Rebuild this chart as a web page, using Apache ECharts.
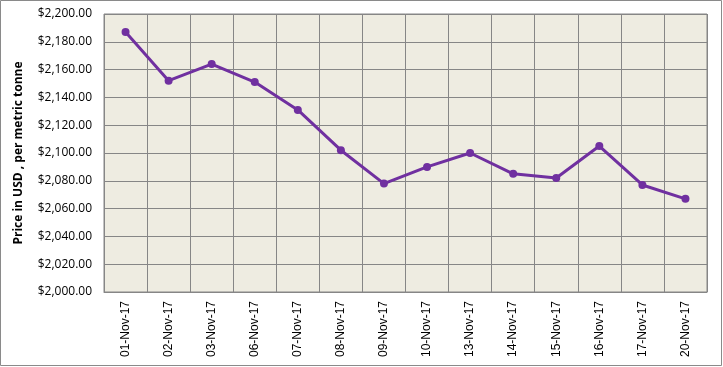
<!DOCTYPE html>
<html><head><meta charset="utf-8">
<script src="https://cdn.jsdelivr.net/npm/echarts@6/dist/echarts.min.js"></script>
<style>html,body{margin:0;padding:0;background:#fff}#c{width:723px;height:367px}</style>
</head><body><div id="c"></div>
<script>
const categories = ["01-Nov-17","02-Nov-17","03-Nov-17","06-Nov-17","07-Nov-17","08-Nov-17","09-Nov-17","10-Nov-17","13-Nov-17","14-Nov-17","15-Nov-17","16-Nov-17","17-Nov-17","20-Nov-17"];
const prices = [2187, 2152, 2164, 2151, 2131, 2102, 2078, 2090, 2100, 2085, 2082, 2105, 2077, 2067];
const yMin = 2000, yMax = 2200, yStep = 20;
const yTitle = "Price in USD , per metric tonne";

const chart = echarts.init(document.getElementById('c'), null, {renderer:'canvas'});
chart.setOption({
  animation:false,
  backgroundColor:'#ffffff',
  graphic:[{type:'rect',shape:{x:0.5,y:0.5,width:721,height:365},style:{fill:'none',stroke:'#8a8a8a',lineWidth:1},z:-1}],
  grid:{left:104,right:16,top:14,bottom:75,show:true,backgroundColor:'#EEECE1',borderColor:'#868686',borderWidth:1},
  xAxis:{type:'category',data:categories,boundaryGap:true,
    axisLine:{show:true,lineStyle:{color:'#868686'}},
    axisTick:{show:false},
    splitLine:{show:true,lineStyle:{color:'#868686',width:1}},
    axisLabel:{rotate:90,color:'#000',fontFamily:'Liberation Sans',fontSize:12,margin:9,interval:0}},
  yAxis:{type:'value',min:yMin,max:yMax,interval:yStep,
    name:yTitle,nameLocation:'middle',nameGap:79,
    nameTextStyle:{fontFamily:'Open Sans',fontWeight:'bold',fontSize:12,color:'#000'},
    axisLine:{show:false},axisTick:{show:false},
    splitLine:{show:true,lineStyle:{color:'#868686',width:1}},
    axisLabel:{color:'#000',fontFamily:'Open Sans',fontSize:12,margin:12,
      formatter:v=>'$'+v.toLocaleString('en-US',{minimumFractionDigits:2,maximumFractionDigits:2})}},
  series:[{type:'line',data:prices,color:'#7030A0',lineStyle:{width:3,color:'#7030A0'},
    symbol:'circle',symbolSize:8,itemStyle:{color:'#7030A0'}}]
});
</script></body></html>
